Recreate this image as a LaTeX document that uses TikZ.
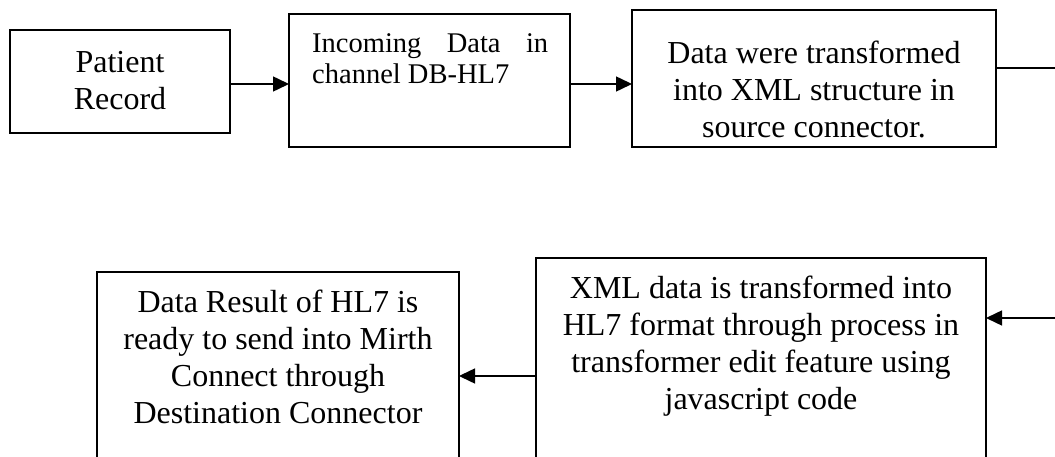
\documentclass[tikz,border=0pt]{standalone}
\usepackage{fontspec}
\setmainfont{Liberation Serif}
\usetikzlibrary{arrows.meta}
\begin{document}
\begin{tikzpicture}[x=1pt,y=-1pt,
  box/.style={draw, line width=1.6pt, rectangle, inner sep=0pt, outer sep=0pt},
  txt/.style={inner sep=0pt, anchor=north, align=center, font=\fontsize{32}{37}\selectfont},
  arr/.style={line width=1.5pt, -{Triangle[length=16pt,width=15pt]}},
  ln/.style={line width=1.5pt}]
\clip (0,0) rectangle (1055,457);
% boxes
\node[box, minimum width=220pt, minimum height=103pt] (B1) at (120,81.5) {};
\node[box, minimum width=281pt, minimum height=133pt] (B2) at (429.5,80.5) {};
\node[box, minimum width=364pt, minimum height=137pt] (B3) at (814,78.5) {};
\node[box, minimum width=450pt, minimum height=222pt] (B4) at (761,369) {};
\node[box, minimum width=362pt, minimum height=208pt] (B5) at (278,376) {};
% texts
\node[txt] (t1) at (120,46.1) {\strut Patient\\Record};
\node[inner sep=0pt, anchor=north west, text width=236pt, align=justify,
      font=\fontsize{28.5}{31.5}\selectfont] (t2) at (312,30) {\strut Incoming Data in channel DB-HL7};
\node[txt] (t3) at (814,37.1) {\strut Data were transformed\\into XML structure in\\source connector.};
\node[txt] (t4) at (761,272.1) {\strut XML data is transformed into\\HL7 format through process in\\transformer edit feature using\\javascript code};
\node[txt] (t5) at (278,286.1) {\strut Data Result of HL7 is\\ready to send into Mirth\\Connect through\\Destination Connector};
% helper coordinates
\coordinate (y84) at (0,84);
\coordinate (y68) at (0,68);
\coordinate (y318) at (0,318);
\coordinate (y376) at (0,376);
\coordinate (r1) at (1055,68);
\coordinate (r2) at (1055,318);
% connectors
\draw[arr] (B1.east |- y84) -- (B2.west |- y84);
\draw[arr] (B2.east |- y84) -- (B3.west |- y84);
\draw[ln] (B3.east |- y68) -- (r1);
\draw[arr] (r2) -- (B4.east |- y318);
\draw[arr] (B4.west |- y376) -- (B5.east |- y376);
\end{tikzpicture}
\end{document}
